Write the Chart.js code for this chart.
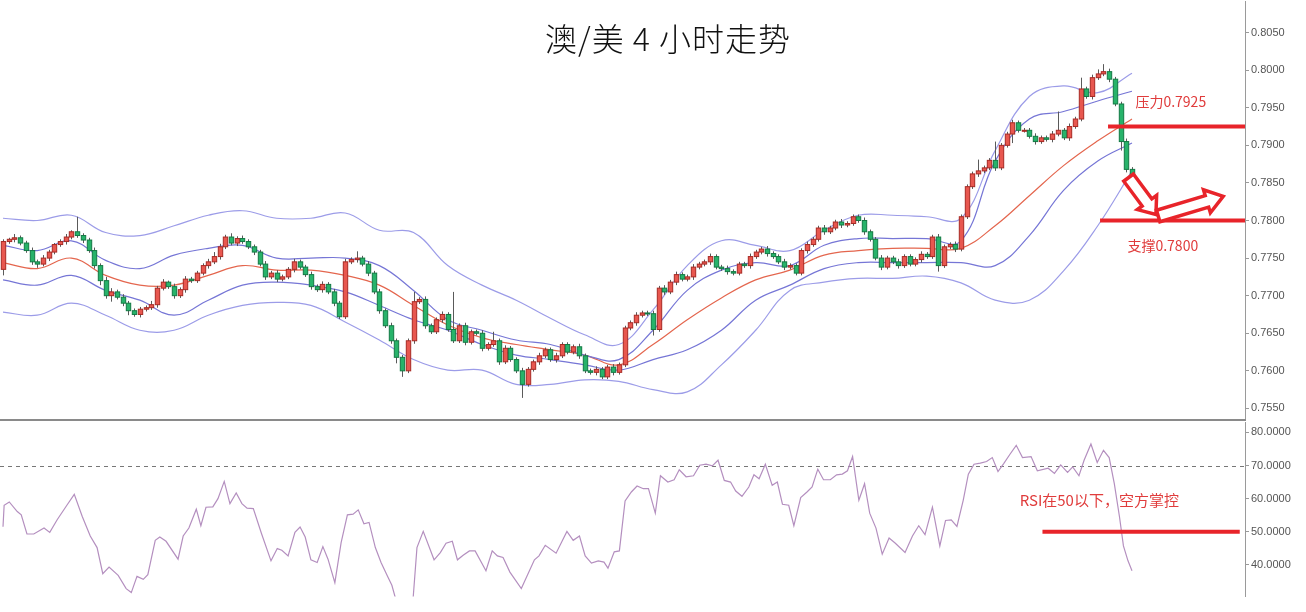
<!DOCTYPE html>
<html><head><meta charset="utf-8">
<script src="https://cdn.jsdelivr.net/npm/chart.js@4.4.1/dist/chart.umd.min.js"></script>
<style>
html,body{margin:0;padding:0;background:#fff;width:1306px;height:612px;overflow:hidden;position:relative}
#c1{position:absolute;left:0;top:-7px}
#c2{position:absolute;left:0;top:414px}
#sep{position:absolute;left:0;top:419px;width:1246px;height:0;border-top:2px solid #8a8a8a;z-index:5}
#title{position:absolute;left:0;width:1336px;top:14px;text-align:center;font-family:"Noto Sans CJK SC";font-size:32px;font-weight:300;color:#111;letter-spacing:1px;z-index:5}
</style></head><body>
<div id="title">澳/美 4 小时走势</div>
<canvas id="c1" width="1306" height="435"></canvas>
<canvas id="c2" width="1306" height="191"></canvas>
<div id="sep"></div>
<script>
// ---- data ----
const firstOpen = 0.7735;
const closes = [
0.7772,0.7775,0.7777,0.7770,0.7760, 0.7745,0.7742,0.7750,0.7758,0.7768,
0.7772,0.7778,0.7785,0.7780,0.7774, 0.7760,0.7740,0.7720,0.7700,0.7705,
0.7698,0.7690,0.7680,0.7675,0.7682, 0.7684,0.7688,0.7710,0.7718,0.7712,
0.7700,0.7708,0.7722,0.7720,0.7730, 0.7740,0.7745,0.7752,0.7765,0.7778,
0.7770,0.7776,0.7772,0.7765,0.7758, 0.7742,0.7725,0.7730,0.7722,0.7725,
0.7735,0.7745,0.7738,0.7728,0.7712, 0.7708,0.7715,0.7705,0.7690,0.7672,
0.7745,0.7748,0.7750,0.7742,0.7730, 0.7705,0.7680,0.7660,0.7640,0.7618,
0.7600,0.7640,0.7692,0.7695,0.7660, 0.7652,0.7668,0.7675,0.7655,0.7640,
0.7660,0.7638,0.7652,0.7650,0.7630, 0.7635,0.7640,0.7612,0.7630,0.7615,
0.7600,0.7582,0.7602,0.7612,0.7620, 0.7628,0.7615,0.7620,0.7635,0.7625,
0.7632,0.7620,0.7600,0.7598,0.7602, 0.7592,0.7605,0.7598,0.7608,
0.7657,0.7664,0.7674,0.7677,0.7676,0.7655,
0.7710,0.7705,0.7718,0.7728,0.7722, 0.7725,0.7738,0.7742,0.7745,0.7752,
0.7738,0.7736,0.7732,0.7730,0.7742, 0.7740,0.7752,0.7758,0.7762,0.7756,
0.7752,0.7745,0.7738,0.7740,0.7730, 0.7760,0.7768,0.7775,0.7790,0.7785,
0.7790,0.7798,0.7794,0.7796,0.7805, 0.7800,0.7785,0.7775,0.7750,0.7738,
0.7750,0.7745,0.7740,0.7752,0.7742, 0.7748,0.7755,0.7752,0.7778,0.7740,
0.7765,0.7768,0.7762,0.7805,0.7845, 0.7862,0.7866,0.7870,0.7880,0.7870,
0.7900,0.7915,0.7930,0.7920,0.7920, 0.7912,0.7905,0.7910,0.7908,0.7915,
0.7920,0.7910,0.7925,0.7935,0.7975, 0.7965,0.7990,0.7995,0.7998,0.7988,
0.7955,0.7905,0.7868,0.7858];
// wick lengths in pips beyond the body
const wickUp = [
3,2,5,3,3,4,3,4,3,2, 3,4,2,20,3,3,4,3,5,5, 3,4,3,3,3,3,5,3,4,2, 4,3,4,3,3,3,4,6,4,3,
5,3,4,3,3,3,4,3,4,3, 3,4,3,3,4,3,4,3,4,3, 4,3,9,3,4,3,4,3,4,3, 3,3,13,3,4,3,3,4,3,50,
3,4,3,3,4,3,12,3,4,3, 3,4,3,3,4,3,3,4,3,3, 3,4,3,3,4,3,3,4,3,3, 3,4,3,3,4,3,4,3,4,3,
3,4,3,3,4,3,3,4,3,3, 3,4,3,3,4,3,3,4,3,3, 3,4,3,3,4,3,3,4,3,3, 3,4,3,3,4,3,3,4,3,3,
3,4,3,3,4,3,3,4,3,3, 3,15,3,3,25,3,3,4,3,3, 3,4,3,3,4,25,3,4,3,15, 3,4,6,10,4,3,3,4,3];
const wickDn = [
8,3,4,3,3,4,5,3,4,3, 3,4,3,3,4,3,4,6,4,8, 3,4,6,3,4,3,3,4,3,3, 4,3,4,3,3,3,4,3,4,3,
3,4,3,3,4,3,4,3,4,3, 3,4,3,3,4,3,4,3,4,3, 3,3,4,3,4,3,4,3,4,8, 8,3,4,3,4,3,3,4,3,3,
3,4,3,3,4,3,3,4,3,3, 3,18,3,3,4,3,3,4,3,3, 3,4,3,3,4,3,3,4,3,3, 3,4,3,3,8,3,4,3,4,3,
3,4,3,3,4,3,3,4,3,3, 3,4,3,3,4,3,3,4,3,3, 3,4,3,3,4,3,3,4,3,3, 3,4,3,3,4,3,3,4,3,3,
3,4,3,3,8,3,3,4,3,3, 3,4,3,3,4,3,3,12,3,3, 3,4,3,3,4,3,3,4,3,3, 3,4,3,3,4,3,12,4,3];
// Bollinger bands (candle index, value)
const bandIdx = [0,6,12,18,24,30,36,42,48,54,60,66,72,78,84,90,96,102,108,114,120,126,132,138,144,150,156,162,168,174,180,186,192,198];
const outerUpper = [0.7803,0.7800,0.7807,0.7784,0.7780,0.7793,0.7807,0.7813,0.7803,0.7803,0.7810,0.7787,0.7784,0.7740,0.7714,0.7694,0.7670,0.7648,0.7635,0.7681,0.7740,0.7773,0.7767,0.7760,0.7787,0.7807,0.7807,0.7805,0.7803,0.7893,0.7965,0.7979,0.7970,0.7996];
const innerUpper = [0.7767,0.7760,0.7773,0.7747,0.7736,0.7754,0.7763,0.7767,0.7750,0.7750,0.7750,0.7740,0.7707,0.7668,0.7654,0.7641,0.7635,0.7621,0.7615,0.7654,0.7707,0.7734,0.7744,0.7740,0.7767,0.7776,0.7776,0.7776,0.7773,0.7879,0.7935,0.7945,0.7959,0.7972];
const middle = [0.7744,0.7736,0.7750,0.7727,0.7714,0.7714,0.7727,0.7740,0.7734,0.7734,0.7727,0.7714,0.7687,0.7661,0.7644,0.7635,0.7628,0.7621,0.7608,0.7635,0.7668,0.7697,0.7721,0.7734,0.7754,0.7760,0.7763,0.7763,0.7763,0.7793,0.7833,0.7873,0.7906,0.7935];
const innerLower = [0.7721,0.7714,0.7727,0.7707,0.7694,0.7674,0.7694,0.7714,0.7718,0.7714,0.7705,0.7687,0.7668,0.7654,0.7635,0.7621,0.7615,0.7608,0.7601,0.7615,0.7628,0.7654,0.7694,0.7714,0.7736,0.7744,0.7744,0.7744,0.7744,0.7740,0.7780,0.7840,0.7879,0.7903];
const outerLower = [0.7678,0.7674,0.7690,0.7674,0.7654,0.7654,0.7674,0.7687,0.7691,0.7687,0.7665,0.7641,0.7615,0.7601,0.7601,0.7582,0.7582,0.7588,0.7586,0.7575,0.7572,0.7608,0.7654,0.7707,0.7718,0.7723,0.7723,0.7726,0.7717,0.7694,0.7694,0.7733,0.7793,0.7866];
// RSI (candle index, value)
const rsiIdx = [0,0.2,1.1,2.5,3.2,4.2,5.4,7.2,8.2,9.5,11.2,12.5,13.9,15.3,16.5,17.5,18.6,20.2,21.6,22.5,23.5,24.6,25.4,26.7,27.5,28.6,30.7,31.6,32.6,33.9,34.7,35.6,36.8,37.7,38.8,39.8,40.9,41.9,42.8,43.9,45.3,47.0,48.1,48.9,50.0,51.2,52.1,53.0,54.0,55.1,56.1,57.0,58.2,59.3,60.4,61.4,62.3,63.3,64.2,65.3,66.3,67.5,68.2,69.3,71.8,72.6,73.7,75.6,76.7,77.7,78.8,79.7,80.7,81.8,82.8,84.7,85.8,86.7,87.7,88.9,90.9,93.2,94.0,95.1,97.0,98.9,100.0,101.1,102.1,103.2,104.4,105.4,106.1,107.2,108.1,109.1,110.2,111.2,112.3,113.2,114.4,115.3,116.6,117.7,118.6,119.8,121.1,122.2,123.3,124.4,125.4,126.5,127.6,128.5,129.6,130.8,131.7,132.6,133.7,134.9,135.8,136.7,137.8,138.7,139.9,141.0,141.9,142.9,143.9,145.1,146.2,147.2,148.1,149.0,150.1,151.1,152.0,153.1,154.2,155.4,156.5,158.2,159.5,160.6,161.7,163.0,164.3,165.3,166.3,167.3,168.4,169.3,170.3,171.4,172.5,173.5,174.5,175.5,176.6,177.7,178.8,180.3,181.4,183.3,184.4,185.5,186.7,187.6,188.7,189.6,190.8,191.9,193.0,194.0,194.9,195.8,196.5,197.3,198.0];
const rsiVal = [51.5,58.0,59.0,56.1,55.1,49.3,49.3,51.1,49.8,53.6,58.0,61.3,54.6,48.7,45.2,37.3,39.3,36.8,32.8,31.6,36.5,35.6,37.0,47.4,48.4,47.1,41.7,48.7,51.1,56.8,51.8,57.4,57.5,60.0,65.2,58.5,61.7,58.5,57.1,57.0,49.6,41.2,44.9,44.4,42.7,49.8,51.4,48.4,41.5,40.7,45.5,41.7,34.6,46.7,55.1,55.3,56.6,52.4,52.8,45.2,40.7,36.3,33.8,27.0,27.0,45.2,50.1,41.5,43.7,46.5,47.1,41.5,42.9,44.2,44.2,38.2,44.2,42.7,42.2,37.8,32.8,41.5,42.7,45.9,43.5,50.1,47.4,48.7,42.7,40.5,41.2,40.8,39.0,43.9,44.2,59.3,62.0,63.8,63.0,63.0,55.6,66.9,65.0,65.7,68.7,66.6,66.9,70.1,70.4,69.9,71.6,65.5,65.0,62.3,60.7,63.5,67.2,66.0,70.4,64.0,65.0,58.3,58.0,51.8,60.3,62.0,63.5,68.9,65.7,65.7,67.2,67.4,68.4,72.7,59.5,64.5,55.6,51.1,43.2,48.1,46.5,43.7,48.7,51.8,49.1,57.4,45.7,53.4,53.6,51.6,59.5,67.4,70.4,70.7,71.2,72.4,68.2,70.6,73.4,76.1,72.4,72.7,68.4,69.2,67.6,70.2,67.9,69.6,66.9,71.6,76.5,70.9,74.6,72.4,64.5,54.6,45.7,41.2,38.2];
const priceTicks = [0.7550,0.7600,0.7650,0.7700,0.7750,0.7800,0.7850,0.7900,0.7950,0.8000,0.8050];
const rsiTicks = [40,50,60,70,80];
const resistance = 0.7925, support = 0.7800, rsiLevel = 50, rsiOverbought = 70;

// ---- helpers ----
const X_MIN = -0.526, X_MAX = 217.82;
const RED = '#e03c3c';
const pts = (xs, ys) => xs.map((x, i) => ({x, y: ys[i]}));
const opens = closes.map((c, i) => i === 0 ? firstOpen : closes[i - 1]);
const rightAxis = (ticksArr, fmt) => ({
  position: 'right',
  afterFit: s => { s.width = 61; },
  afterBuildTicks: s => { s.ticks = ticksArr.map(v => ({value: v})); },
  border: {display: true, color: '#9a9a9a', width: 1},
  grid: {display: true, drawOnChartArea: false, drawTicks: true, tickLength: 4, color: '#9a9a9a'},
  ticks: {callback: v => fmt(v), color: '#555', font: {family: 'Liberation Sans', size: 11}, padding: 2}
});
const xAxis = {type: 'linear', min: X_MIN, max: X_MAX, display: false};

function arrow(ctx, x1, y1, x2, y2, sw, hw, hl) {
  const dx = x2 - x1, dy = y2 - y1, L = Math.hypot(dx, dy);
  const ux = dx / L, uy = dy / L, vx = -uy, vy = ux;
  const P = (a, b) => [x1 + ux * a + vx * b, y1 + uy * a + vy * b];
  const poly = [P(0, -sw), P(L - hl, -sw), P(L - hl, -hw), P(L, 0), P(L - hl, hw), P(L - hl, sw), P(0, sw)];
  ctx.beginPath(); poly.forEach((p, i) => i ? ctx.lineTo(p[0], p[1]) : ctx.moveTo(p[0], p[1]));
  ctx.closePath(); ctx.fillStyle = '#fff'; ctx.fill();
  ctx.strokeStyle = '#e8242a'; ctx.lineWidth = 3.5; ctx.lineJoin = 'miter'; ctx.stroke();
}

const candlePlugin = {
  id: 'candles',
  afterDatasetsDraw(chart) {
    const {ctx, scales: {x, y}} = chart;
    ctx.save();
    const w = 4.4;
    closes.forEach((c, i) => {
      const o = opens[i];
      const hi = Math.max(o, c) + wickUp[i] * 0.0001;
      const lo = Math.min(o, c) - wickDn[i] * 0.0001;
      const xp = x.getPixelForValue(i);
      const up = c >= o;
      ctx.strokeStyle = '#5a5a5a'; ctx.lineWidth = 1;
      ctx.beginPath(); ctx.moveTo(Math.round(xp) + 0.5, y.getPixelForValue(hi)); ctx.lineTo(Math.round(xp) + 0.5, y.getPixelForValue(lo)); ctx.stroke();
      const yt = y.getPixelForValue(Math.max(o, c)), yb = y.getPixelForValue(Math.min(o, c));
      const h = Math.max(1, yb - yt);
      ctx.fillStyle = up ? '#e8574f' : '#27b36a';
      ctx.strokeStyle = up ? '#a82a24' : '#137a44';
      ctx.fillRect(Math.round(xp) - w / 2 + 0.5, yt, w, h);
      ctx.strokeRect(Math.round(xp) - w / 2 + 0.5, yt, w, h);
    });
    const right = chart.chartArea.right;
    ctx.strokeStyle = '#e8242a'; ctx.lineWidth = 4;
    const yr = y.getPixelForValue(resistance), ys = y.getPixelForValue(support);
    ctx.beginPath(); ctx.moveTo(x.getPixelForValue(193.8), yr); ctx.lineTo(right, yr); ctx.stroke();
    ctx.beginPath(); ctx.moveTo(x.getPixelForValue(192.4), ys); ctx.lineTo(right, ys); ctx.stroke();
    ctx.fillStyle = RED; ctx.font = '14px "Noto Sans CJK SC"'; ctx.textBaseline = 'middle';
    ctx.fillText('压力' + resistance.toFixed(4), x.getPixelForValue(198.6), y.getPixelForValue(0.7958));
    ctx.fillText('支撑' + support.toFixed(4), x.getPixelForValue(197.2), y.getPixelForValue(0.7766));
    arrow(ctx, x.getPixelForValue(197.4), y.getPixelForValue(0.7857), x.getPixelForValue(202.2), y.getPixelForValue(0.7808), 6, 12, 15);
    arrow(ctx, x.getPixelForValue(202.6), y.getPixelForValue(0.7806), x.getPixelForValue(214.0), y.getPixelForValue(0.7832), 6, 12, 17);
    ctx.restore();
  }
};

const band = (data, color, width) => ({data: pts(bandIdx, data), borderColor: color, borderWidth: width, pointRadius: 0, tension: 0.4, fill: false});

new Chart(document.getElementById('c1'), {
  type: 'line',
  data: {datasets: [
    band(outerUpper, '#9c9ce8', 1.2), band(innerUpper, '#7676d6', 1.2), band(middle, '#e4664e', 1.2),
    band(innerLower, '#7676d6', 1.2), band(outerLower, '#9c9ce8', 1.2)
  ]},
  options: {
    responsive: false, animation: false, parsing: false,
    layout: {padding: 0},
    plugins: {legend: {display: false}, tooltip: {enabled: false}},
    scales: {x: xAxis, y: Object.assign(rightAxis(priceTicks, v => v.toFixed(4)), {min: 0.75354, max: 0.80912})}
  },
  plugins: [candlePlugin]
});

const rsiPlugin = {
  id: 'rsiDeco',
  beforeDatasetsDraw(chart) {
    const {ctx, chartArea: a, scales: {y}} = chart;
    ctx.save();
    ctx.strokeStyle = '#777'; ctx.lineWidth = 1; ctx.setLineDash([4, 4]);
    const y70 = Math.round(y.getPixelForValue(rsiOverbought)) + 0.5;
    ctx.beginPath(); ctx.moveTo(a.left, y70); ctx.lineTo(a.right, y70); ctx.stroke();
    ctx.restore();
  },
  afterDatasetsDraw(chart) {
    const {ctx, scales: {x, y}} = chart;
    ctx.save();
    ctx.strokeStyle = '#e8242a'; ctx.lineWidth = 4;
    const y50 = y.getPixelForValue(rsiLevel);
    ctx.beginPath(); ctx.moveTo(x.getPixelForValue(182.3), y50); ctx.lineTo(x.getPixelForValue(216.9), y50); ctx.stroke();
    ctx.fillStyle = RED; ctx.font = '15px "Noto Sans CJK SC"'; ctx.textBaseline = 'middle';
    ctx.fillText('RSI在50以下，空方掌控', x.getPixelForValue(178.3), y.getPixelForValue(59.5));
    ctx.restore();
  }
};

new Chart(document.getElementById('c2'), {
  type: 'line',
  data: {datasets: [{data: pts(rsiIdx, rsiVal), borderColor: '#b48fbf', borderWidth: 1.2, pointRadius: 0, tension: 0, fill: false}]},
  options: {
    responsive: false, animation: false, parsing: false,
    layout: {padding: 0},
    plugins: {legend: {display: false}, tooltip: {enabled: false}},
    scales: {x: xAxis, y: Object.assign(rightAxis(rsiTicks, v => v.toFixed(4)), {min: 30.45, max: 82.97})}
  },
  plugins: [rsiPlugin]
});
</script>
</body></html>
